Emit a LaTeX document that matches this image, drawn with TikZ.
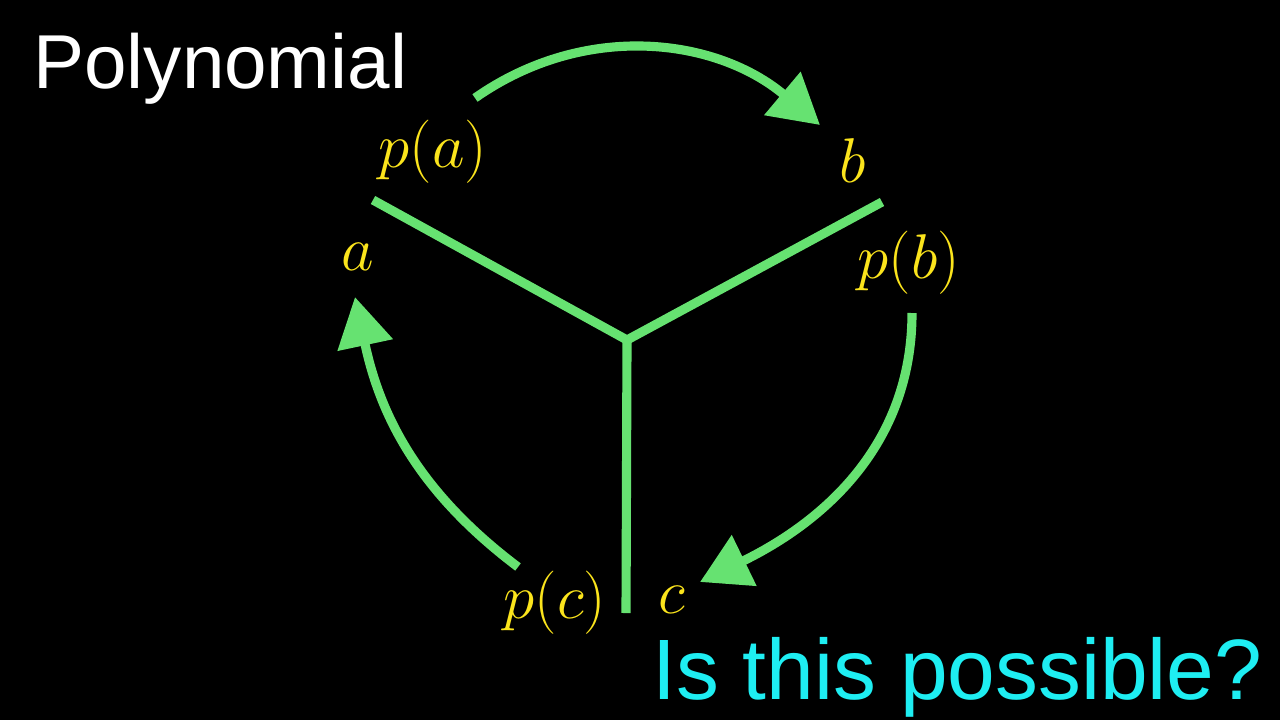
\RequirePackage{fix-cm}
\documentclass[tikz,border=0pt]{standalone}
\usepackage{fontspec}
\setmainfont{Liberation Sans}
\usepackage{tikz}
\usetikzlibrary{arrows.meta}
\definecolor{Board}{HTML}{000000}
\definecolor{Leaf}{HTML}{66E271}
\definecolor{Lemon}{HTML}{FBE41C}
\definecolor{Aqua}{HTML}{1EEEF2}
\tikzset{
  arm/.style={draw=Leaf,line width=5.2pt},
  arcarrow/.style={draw=Leaf,line width=5.2pt,-{Triangle[length=28pt,width=31pt]}},
  lab/.style={text=Lemon,font=\fontsize{36}{42}\selectfont,inner sep=0pt,anchor=base},
  title/.style={text=white,font=\fontsize{43.5}{50}\selectfont,inner sep=0pt,anchor=base west}
}

\begin{document}
\begin{tikzpicture}[x=0.02cm,y=-0.02cm]
\useasboundingbox (0,0) rectangle (1280,720);
\fill[Board] (0,0) rectangle (1280,720);
% title and question
\node[title] (poly) at (33,88) {Polynomial};
\node[title,text=Aqua,font=\fontsize{48.8}{56}\selectfont] (ask) at (652,699) {Is this possible?};
% the Y
\coordinate (J) at (627,340);
\coordinate (endA) at (373,200);
\coordinate (endB) at (882,202);
\coordinate (endC) at (626,613);
\draw[arm,miter limit=20] (endA) -- (J) -- (endB);
\draw[arm] (J) -- (endC);
% labels
\node[lab] (pa) at (433,167) {$p(a)$};
\node[lab] (b) at (853,182) {$b$};
\node[lab] (a) at (358,270) {$a$};
\node[lab] (pb) at (909,278) {$p(b)$};
\node[lab] (pc) at (555,618) {$p(c)$};
\node[lab] (c) at (672,613) {$c$};
% arrow ends
\coordinate (pa-out) at (475,98);
\coordinate (b-in) at (820,125);
\coordinate (pb-out) at (912,313);
\coordinate (c-in) at (700,582);
\coordinate (pc-out) at (518,567);
\coordinate (a-in) at (355,297);
\draw[arcarrow] (pa-out) to[out=35,in=140] (b-in);
\draw[arcarrow] (pb-out) to[out=-90,in=26] (c-in);
\draw[arcarrow] (pc-out) to[out=143,in=-78] (a-in);
\end{tikzpicture}
\end{document}
